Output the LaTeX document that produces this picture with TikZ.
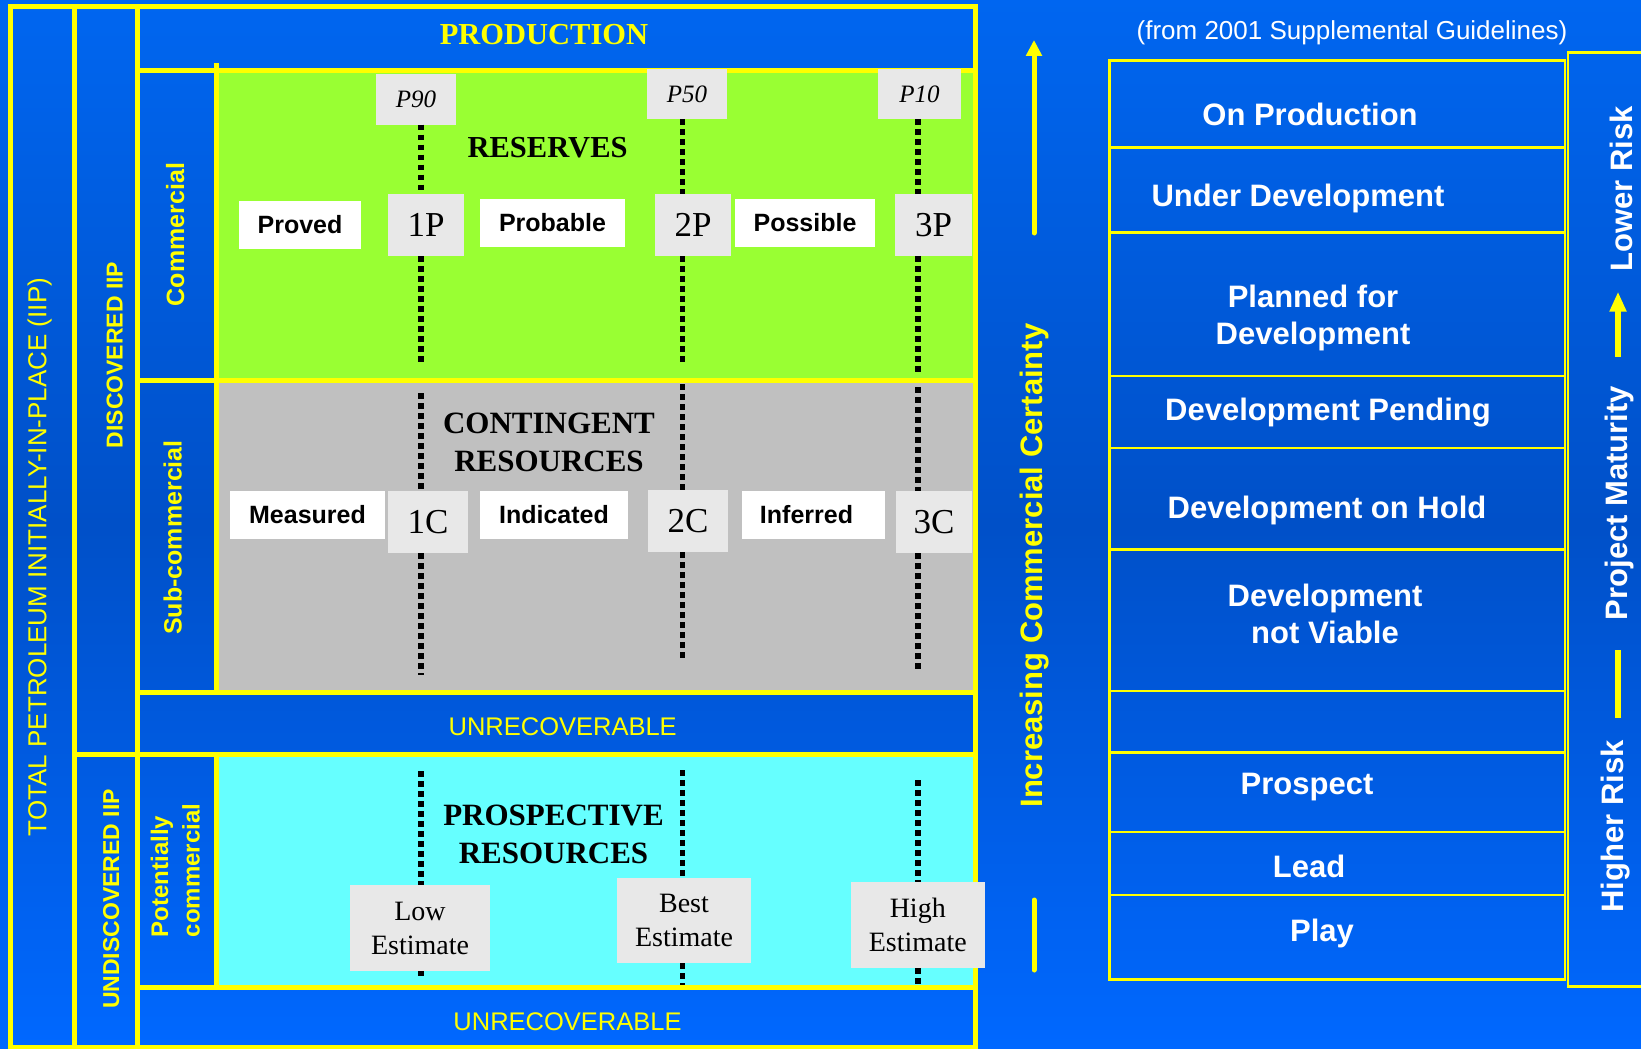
\documentclass[tikz,border=0pt]{standalone}
\usepackage{fontspec}
\setmainfont{Liberation Serif}
\setsansfont{Liberation Sans}
\usetikzlibrary{arrows.meta}

\definecolor{frameyellow}{HTML}{FFFF00}
\definecolor{resgreen}{HTML}{99FF33}
\definecolor{contgray}{HTML}{C0C0C0}
\definecolor{prospcyan}{HTML}{66FFFF}
\definecolor{boxgray}{HTML}{E8E8E8}
\definecolor{bgtop}{HTML}{0066F0}
\definecolor{bgmid}{HTML}{0050C8}
\definecolor{bgbot}{HTML}{0068FF}

\newcommand{\fs}[2]{\fontsize{#1}{#2}\selectfont}

\begin{document}
\begin{tikzpicture}[x=1pt,y=-1pt,
  gridline/.style={draw=frameyellow, line width=5pt},
  tableline/.style={draw=frameyellow, line width=2.5pt},
  guide/.style={draw=black, line width=5.2pt, dash pattern=on 5.5pt off 4.5pt},
  classbox/.style={fill=white, inner sep=0pt, minimum height=48pt,
    font=\sffamily\bfseries\fs{25}{30}},
  cumbox/.style={fill=boxgray, inner sep=0pt, minimum height=62pt, font=\fs{35}{40}},
  pbox/.style={fill=boxgray, inner sep=0pt, minimum height=50pt, font=\itshape\fs{25}{30}},
  estbox/.style={fill=boxgray, inner sep=0pt, align=center, font=\fs{28}{34}},
  headtext/.style={inner sep=0pt, align=center, font=\bfseries\fs{31}{37.5}},
  sidelabel/.style={rotate=90, anchor=base, inner sep=0pt, text=frameyellow},
  unrec/.style={anchor=base, inner sep=0pt, text=frameyellow, font=\sffamily\fs{25.5}{30}},
  rowtext/.style={inner sep=0pt, text=white, align=center, font=\sffamily\bfseries\fs{31}{36.5}},
  risktext/.style={rotate=90, anchor=base, inner sep=0pt, text=white,
    font=\sffamily\bfseries\fs{31}{36}},
  bararrow/.style={draw=frameyellow, line width=#1},
]

% canvas and background
\useasboundingbox (0,0) rectangle (1641,1049);
\shade[top color=bgtop, bottom color=bgbot, middle color=bgmid] (0,0) rectangle (1641,1049);

% resource class areas
\fill[resgreen]   (216,71)  rectangle (975,380);
\fill[contgray]   (216,380) rectangle (975,692);
\fill[prospcyan]  (216,754) rectangle (975,987);

% yellow frame and dividers
\draw[gridline] (10.5,7) rectangle (975,1047);
\draw[gridline] (74,7) -- (74,1047);
\draw[gridline] (137,7) -- (137,1047);
\draw[gridline] (137,71) -- (975,71);
\draw[gridline] (216,63) -- (216,692);
\draw[gridline] (216,754) -- (216,987);
\draw[gridline] (137,380) -- (975,380);
\draw[gridline] (137,692) -- (975,692);
\draw[gridline] (74,754) -- (975,754);
\draw[gridline] (137,987) -- (975,987);

% uncertainty markers
\node[pbox, minimum width=80pt] (p90) at (416,99.5) {\raisebox{-2pt}{P90}};
\node[pbox, minimum width=80pt] (p50) at (687,94) {\raisebox{-2pt}{P50}};
\node[pbox, minimum width=83pt] (p10) at (919.5,94) {\raisebox{-2pt}{P10}};

\node[cumbox, minimum width=76pt] (onep)   at (426,225)   {\raisebox{-1.5pt}{1P}};
\node[cumbox, minimum width=76pt] (twop)   at (693,225)   {\raisebox{-1.5pt}{2P}};
\node[cumbox, minimum width=77pt] (threep) at (933.5,225) {\raisebox{-1.5pt}{3P}};

\node[classbox, minimum width=122pt] (proved)   at (300,225)   {Proved};
\node[classbox, minimum width=145pt] (probable) at (552.5,223) {Probable};
\node[classbox, minimum width=140pt] (possible) at (805,223)   {Possible};

\node[classbox, minimum width=155pt] (measured)  at (307.5,515) {Measured};
\node[classbox, minimum width=148pt] (indicated) at (554,515)   {Indicated};
\node[classbox, minimum width=143pt] (inferred)  at (813.5,515) {\hspace*{-14pt}Inferred};

\node[cumbox, minimum width=80pt] (onec)   at (428,522) {\raisebox{-1pt}{1C}};
\node[cumbox, minimum width=80pt] (twoc)   at (688,521) {\raisebox{-1pt}{2C}};
\node[cumbox, minimum width=76pt] (threec) at (934,522) {\raisebox{-1pt}{3C}};

\node[estbox, minimum width=140pt, minimum height=86pt]   (low)  at (420,928)      {Low\\Estimate};
\node[estbox, minimum width=134pt, minimum height=85pt]   (best) at (684,920.5)    {Best\\Estimate};
\node[estbox, minimum width=133.5pt, minimum height=86pt] (high) at (917.75,925)   {High\\Estimate};

% dotted guide lines
\coordinate (L1) at (421,0);
\coordinate (L2) at (682.5,0);
\coordinate (L3) at (918,0);

\coordinate (g1a) at (421,365);   \coordinate (g1b) at (421,393);
\coordinate (g1c) at (421,675);   \coordinate (g1d) at (421,771);
\coordinate (g1e) at (421,976);
\coordinate (g2a) at (682.5,364); \coordinate (g2b) at (682.5,384);
\coordinate (g2c) at (682.5,662); \coordinate (g2d) at (682.5,770);
\coordinate (g2e) at (682.5,985);
\coordinate (g3a) at (918,373);   \coordinate (g3b) at (918,387);
\coordinate (g3c) at (918,673);   \coordinate (g3d) at (918,780);
\coordinate (g3e) at (918,985);

\draw[guide] (p90.south -| L1) -- (onep.north -| L1);
\draw[guide] (onep.south -| L1) -- (g1a);
\draw[guide] (g1b) -- (onec.north -| L1);
\draw[guide] (onec.south -| L1) -- (g1c);
\draw[guide] (g1d) -- (low.north -| L1);
\draw[guide] (low.south -| L1) -- (g1e);

\draw[guide] (p50.south -| L2) -- (twop.north -| L2);
\draw[guide] (twop.south -| L2) -- (g2a);
\draw[guide] (g2b) -- (twoc.north -| L2);
\draw[guide] (twoc.south -| L2) -- (g2c);
\draw[guide] (g2d) -- (best.north -| L2);
\draw[guide] (best.south -| L2) -- (g2e);

\draw[guide] (p10.south -| L3) -- (threep.north -| L3);
\draw[guide] (threep.south -| L3) -- (g3a);
\draw[guide] (g3b) -- (threec.north -| L3);
\draw[guide] (threec.south -| L3) -- (g3c);
\draw[guide] (g3d) -- (high.north -| L3);
\draw[guide] (high.south -| L3) -- (g3e);

% class titles
\node[anchor=base, inner sep=0pt, text=frameyellow, font=\bfseries\fs{30.5}{36}] (prod) at (544,45) {PRODUCTION};
\node[anchor=base, inner sep=0pt, font=\bfseries\fs{30.5}{36}] (reserves) at (547.6,157.5) {RESERVES};
\node[headtext, anchor=north] (contingent) at (549,413) {CONTINGENT\\RESOURCES};
\node[headtext, anchor=north] (prospective) at (553.5,805) {PROSPECTIVE\\RESOURCES};
\node[unrec] (unrec1) at (562.7,735) {UNRECOVERABLE};
\node[unrec] (unrec2) at (567.5,1030.5) {UNRECOVERABLE};

% rotated column labels
\node[sidelabel, font=\sffamily\fs{26}{30}] (tiip) at (46.3,557) {TOTAL PETROLEUM INITIALLY-IN-PLACE (IIP)};
\node[sidelabel, font=\sffamily\bfseries\fs{23}{28}] (disc) at (122.7,355) {DISCOVERED IIP};
\node[sidelabel, font=\sffamily\bfseries\fs{23}{28}] (undisc) at (119,899) {UNDISCOVERED IIP};
\node[sidelabel, font=\sffamily\bfseries\fs{25}{30}] (comm) at (184,234.5) {Commercial};
\node[sidelabel, font=\sffamily\bfseries\fs{25}{30}] (subcomm) at (181.5,537.5) {Sub-commercial};
\node[rotate=90, anchor=south west, inner sep=0pt, text=frameyellow, align=left,
  font=\sffamily\bfseries\fs{24}{31.5}] (potcomm) at (200,937.3) {Potentially\\commercial};

% commercial certainty axis
\node[sidelabel, font=\sffamily\bfseries\fs{31}{36}] (certainty) at (1042.5,565.5) {Increasing Commercial Certainty};
\coordinate (certtipfoot) at (1034,233);
\coordinate (certtip) at (1034,40);
\coordinate (certtailtop) at (1034,900);
\coordinate (certtailfoot) at (1034,970);
\draw[bararrow=5pt, line cap=round, -{Triangle[width=15.5pt,length=16pt]}] (certtipfoot) -- (certtip);
\draw[bararrow=5pt, line cap=round] (certtailtop) -- (certtailfoot);

% project maturity sub-classes
\node[anchor=base, inner sep=0pt, text=white, font=\sffamily\fs{26}{30}] (source) at (1352,40) {(from 2001 Supplemental Guidelines)};

\draw[tableline] (1109.5,60.7) rectangle (1565,979.5);
\foreach \yy in {147.3,232.5,376,448.2,549.4,690.8,752.5,832,895}
  \draw[tableline] (1109.5,\yy) -- (1565,\yy);

\node[rowtext, anchor=base]  (onprod)   at (1310,125)   {On Production};
\node[rowtext, anchor=base]  (underdev) at (1298,206)   {Under Development};
\node[rowtext, anchor=north] (planned)  at (1313,285)   {Planned for\\Development};
\node[rowtext, anchor=base]  (pending)  at (1328,420.5) {Development Pending};
\node[rowtext, anchor=base]  (onhold)   at (1327,518)   {Development on Hold};
\node[rowtext, anchor=north] (notviable) at (1325,584)  {Development\\not Viable};
\node[rowtext, anchor=base]  (prospect) at (1307,794)   {Prospect};
\node[rowtext, anchor=base]  (lead)     at (1309,877.5) {Lead};
\node[rowtext, anchor=base]  (play)     at (1322,941)   {Play};

% risk axis
\draw[tableline] (1660,52.7) -- (1568,52.7) -- (1568,986.5) -- (1660,986.5);
\node[risktext] (lowrisk)  at (1632,189)   {Lower Risk};
\node[risktext] (maturity) at (1627,503)   {Project Maturity};
\node[risktext] (highrisk) at (1623,826.5) {Higher Risk};
\coordinate (risktipfoot) at (1618,356.7);
\coordinate (risktip) at (1618,291.7);
\coordinate (risktailtop) at (1618,650);
\coordinate (risktailfoot) at (1618,718);
\draw[bararrow=6pt, -{Triangle[width=16pt,length=20pt]}] (risktipfoot) -- (risktip);
\draw[bararrow=6pt] (risktailtop) -- (risktailfoot);

\end{tikzpicture}
\end{document}
